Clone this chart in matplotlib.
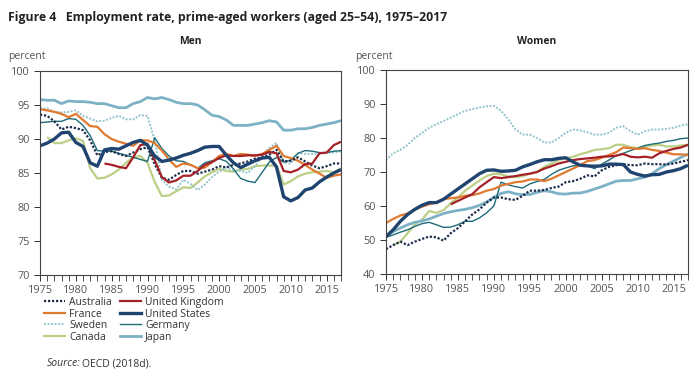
import numpy as np
import matplotlib
matplotlib.use('Agg')
import matplotlib.pyplot as plt
from matplotlib.ticker import MultipleLocator

plt.rcParams['font.family'] = ['Open Sans', 'DejaVu Sans']

# === Data ===
years = list(range(1975, 2018))

men_australia = [93.6, 93.4, 92.6, 91.4, 91.8, 91.6, 91.3, 89.8, 87.6, 88.1, 88.2, 87.8, 87.5, 88.0,
                 88.5, 88.8, 86.3, 84.3, 84.0, 84.7, 85.3, 85.3, 84.9, 85.2, 85.5, 86.0, 85.8, 86.2,
                 86.4, 86.7, 87.1, 87.3, 87.7, 88.4, 86.7, 86.8, 87.3, 86.7, 86.1, 85.7, 86.0, 86.4, 86.4]
men_france = [94.4, 94.2, 94.0, 93.7, 93.2, 93.7, 92.8, 91.9, 91.8, 90.7, 90.0, 89.6, 89.3, 89.0,
              89.8, 89.8, 89.4, 88.3, 87.0, 85.9, 86.4, 86.2, 85.7, 85.8, 86.6, 87.5, 87.8, 87.5,
              87.8, 87.7, 87.5, 87.8, 88.4, 89.0, 87.5, 87.2, 86.8, 86.2, 85.5, 84.9, 84.3, 84.6, 84.8]
men_sweden = [94.5, 94.5, 94.0, 93.9, 94.0, 94.2, 93.4, 93.0, 92.6, 92.7, 93.1, 93.4, 92.9, 92.9,
              93.5, 93.4, 89.8, 84.0, 83.0, 82.6, 84.0, 83.4, 82.5, 83.3, 84.4, 85.2, 85.8, 85.3,
              85.3, 85.0, 86.0, 87.5, 88.7, 89.4, 86.5, 86.4, 87.9, 87.8, 87.8, 87.8, 88.0, 88.0, 88.2]
men_canada = [None, 90.3, 89.4, 89.4, 89.8, 90.1, 89.7, 85.7, 84.2, 84.3, 84.8, 85.5, 86.5, 87.3,
              87.5, 86.5, 83.7, 81.6, 81.7, 82.3, 82.9, 82.8, 83.6, 84.5, 85.1, 85.6, 85.3, 85.2,
              85.5, 85.6, 86.0, 86.1, 86.1, 86.1, 83.3, 83.8, 84.5, 84.9, 85.1, 85.2, 85.3, 85.1, 85.7]
men_uk = [None] * 9 + [86.4, 86.2, 85.9, 85.7, 87.3, 89.1, 89.3, 86.9, 84.4, 83.6, 83.9, 84.6, 84.6,
                       85.3, 86.2, 86.6, 87.2, 87.6, 87.5, 87.5, 87.6, 87.6, 87.7, 88.1, 87.9, 85.3,
                       85.1, 85.5, 86.3, 86.4, 87.9, 88.0, 89.1, 89.6]
men_us = [89.0, 89.4, 90.0, 90.9, 91.0, 89.5, 88.9, 86.5, 86.0, 88.4, 88.6, 88.5, 89.0, 89.5,
          89.8, 89.1, 87.5, 86.7, 86.9, 87.2, 87.6, 87.9, 88.3, 88.8, 88.9, 88.9, 87.6, 86.5,
          85.8, 86.3, 86.8, 87.2, 87.3, 85.9, 81.5, 80.9, 81.4, 82.5, 82.8, 83.7, 84.4, 85.0, 85.5]
men_germany = [92.4, 92.5, 92.6, 92.6, 93.0, 92.9, 92.0, 90.5, 88.3, 88.2, 88.2, 87.9, 87.6, 87.3,
               87.0, 86.7, 90.2, 88.6, 87.5, 86.8, 86.7, 86.2, 85.7, 86.5, 86.8, 87.1, 86.7, 85.6,
               84.2, 83.8, 83.6, 85.1, 86.6, 87.3, 86.6, 86.9, 87.9, 88.3, 88.2, 88.0, 88.0, 88.2, 88.3]
men_japan = [95.8, 95.7, 95.7, 95.2, 95.6, 95.5, 95.5, 95.4, 95.2, 95.2, 94.9, 94.6, 94.6, 95.2,
             95.5, 96.1, 95.9, 96.1, 95.8, 95.4, 95.2, 95.2, 95.0, 94.3, 93.5, 93.3, 92.8, 92.0,
             92.0, 92.0, 92.2, 92.4, 92.7, 92.5, 91.3, 91.3, 91.5, 91.5, 91.7, 92.0, 92.2, 92.4, 92.7]

women_australia = [47.3, 48.5, 49.5, 48.5, 49.5, 50.3, 51.0, 50.8, 49.8, 52.0, 53.5, 55.5, 57.5, 59.0,
                   61.0, 62.5, 62.5, 62.0, 61.8, 63.0, 64.5, 64.5, 64.7, 65.3, 65.7, 67.0, 67.3, 68.0,
                   69.0, 68.7, 70.5, 71.5, 72.0, 72.3, 72.0, 72.0, 72.5, 72.3, 72.3, 72.2, 72.5, 73.0, 73.5]
women_france = [55.0, 56.2, 57.2, 57.8, 59.0, 59.8, 60.5, 61.0, 62.0, 62.3, 62.5, 63.0, 63.2, 63.7,
                64.5, 65.0, 66.0, 66.5, 67.0, 67.2, 67.8, 67.8, 67.3, 68.0, 69.0, 70.0, 71.0, 72.0,
                73.2, 73.5, 74.2, 75.0, 75.8, 77.2, 77.0, 76.8, 77.0, 76.5, 76.2, 75.7, 75.2, 75.2, 75.0]
women_sweden = [73.5, 75.5, 76.5, 78.0, 80.0, 81.5, 83.0, 84.0, 85.0, 86.0, 87.0, 88.0, 88.5, 89.0,
                89.3, 89.5, 88.0, 85.5, 82.5, 81.0, 81.0, 80.0, 78.7, 78.7, 80.0, 81.5, 82.5, 82.2,
                81.7, 81.0, 81.0, 81.5, 83.0, 83.5, 82.0, 81.0, 82.0, 82.5, 82.5, 82.7, 83.0, 83.7, 84.0]
women_canada = [None, 48.5, 49.5, 52.0, 54.5, 56.0, 58.5, 58.0, 58.8, 60.8, 62.5, 64.5, 66.0, 67.5,
                68.8, 69.5, 69.3, 68.7, 68.5, 68.8, 69.5, 70.0, 71.5, 72.5, 73.5, 74.0, 74.5, 75.2,
                75.8, 76.5, 76.7, 77.0, 78.0, 78.0, 77.3, 77.0, 77.5, 77.8, 78.0, 77.5, 77.5, 77.8, 78.0]
women_uk = [None] * 9 + [60.5, 61.5, 62.5, 63.5, 65.5, 67.0, 68.5, 68.2, 68.5, 68.8, 69.2, 69.5, 70.0,
                         71.0, 71.7, 72.5, 73.0, 73.5, 73.8, 74.0, 74.2, 74.5, 74.6, 74.8, 75.3, 74.5,
                         74.3, 74.5, 74.2, 75.5, 76.2, 76.8, 77.2, 78.0]
women_us = [51.0, 53.0, 55.5, 57.5, 59.0, 60.2, 61.0, 61.0, 62.0, 63.5, 65.0, 66.5, 68.0, 69.5,
            70.5, 70.6, 70.2, 70.3, 70.5, 71.5, 72.2, 73.0, 73.6, 73.6, 74.0, 74.2, 73.0, 72.0,
            71.8, 71.7, 71.8, 72.3, 72.3, 72.2, 70.0, 69.3, 68.8, 69.2, 69.3, 70.0, 70.4, 71.0, 72.0]
women_germany = [50.8, 51.5, 52.3, 53.0, 54.0, 54.8, 55.2, 54.5, 53.7, 53.8, 54.5, 55.5, 55.5, 56.5,
                 58.0, 60.0, 67.0, 66.2, 65.7, 65.3, 66.5, 67.2, 67.8, 69.3, 70.5, 71.2, 71.8, 72.0,
                 71.8, 71.0, 72.3, 73.5, 74.8, 75.5, 76.3, 77.0, 77.8, 78.2, 78.5, 79.0, 79.3, 79.8, 80.0]
women_japan = [51.0, 52.5, 53.5, 54.5, 55.2, 55.6, 56.2, 57.0, 57.8, 58.3, 58.7, 59.0, 59.5, 60.2,
               61.2, 62.5, 63.7, 64.2, 63.6, 63.3, 63.4, 64.0, 64.5, 64.2, 63.6, 63.5, 63.8, 63.8,
               64.3, 65.0, 65.7, 66.5, 67.3, 67.5, 67.5, 68.0, 68.5, 69.5, 71.0, 72.2, 73.2, 74.3, 75.3]

# === Styles ===
styles = {
    'Australia':      dict(color='#1c2c4a', lw=1.6, ls=(0, (1, 0.8))),
    'France':         dict(color='#e07a30', lw=1.6, ls='-'),
    'Sweden':         dict(color='#93c3cc', lw=1.4, ls=(0, (1, 0.8))),
    'Canada':         dict(color='#bccf86', lw=1.6, ls='-'),
    'United Kingdom': dict(color='#a52128', lw=1.6, ls='-'),
    'United States':  dict(color='#1f4470', lw=2.4, ls='-'),
    'Germany':        dict(color='#1d6b78', lw=1.0, ls='-'),
    'Japan':          dict(color='#7db1c5', lw=2.0, ls='-'),
}
draw_order = ['Canada', 'Sweden', 'Japan', 'Germany', 'France', 'Australia', 'United Kingdom', 'United States']

men = {'Australia': men_australia, 'France': men_france, 'Sweden': men_sweden, 'Canada': men_canada,
       'United Kingdom': men_uk, 'United States': men_us, 'Germany': men_germany, 'Japan': men_japan}
women = {'Australia': women_australia, 'France': women_france, 'Sweden': women_sweden,
         'Canada': women_canada, 'United Kingdom': women_uk, 'United States': women_us,
         'Germany': women_germany, 'Japan': women_japan}

fig = plt.figure(figsize=(7.0, 3.77), dpi=100)
ax_m = fig.add_axes([40 / 700, 1 - 275 / 377, 301 / 700, 204 / 377])
ax_w = fig.add_axes([386 / 700, 1 - 274 / 377, 302 / 700, 204 / 377])

tick_col = '#555555'
for ax, data, ylim, ystep in [(ax_m, men, (70, 100), 5), (ax_w, women, (40, 100), 10)]:
    for name in draw_order:
        vals = np.array([np.nan if v is None else v for v in data[name]], dtype=float)
        st = styles[name]
        ax.plot(years, vals, color=st['color'], lw=st['lw'], ls=st['ls'],
                solid_capstyle='butt', solid_joinstyle='round')
    ax.set_xlim(1975, 2017)
    ax.set_ylim(*ylim)
    ax.xaxis.set_major_locator(MultipleLocator(5))
    ax.xaxis.set_minor_locator(MultipleLocator(1))
    ax.yaxis.set_major_locator(MultipleLocator(ystep))
    ax.tick_params(axis='both', which='major', labelsize=7.8, colors='#333333',
                   labelcolor=tick_col, length=4, width=0.7, direction='out')
    ax.tick_params(axis='x', which='minor', length=4, width=0.6, color='#333333', direction='out')
    for sp in ax.spines.values():
        sp.set_color('#444444')
        sp.set_linewidth(0.8)

fig.text(8 / 700, 1 - 17 / 377, 'Figure 4   Employment rate, prime-aged workers (aged 25\u201354), 1975\u20132017',
         fontsize=8.8, fontweight='bold', va='center', ha='left', color='#222222')
fig.text(190 / 700, 1 - 42 / 377, 'Men', fontsize=7.5, fontweight='bold', ha='center', va='center',
         color='#222222')
fig.text(537 / 700, 1 - 42 / 377, 'Women', fontsize=7.5, fontweight='bold', ha='center', va='center',
         color='#222222')
fig.text(8 / 700, 1 - 57 / 377, 'percent', fontsize=7.5, ha='left', va='center', color=tick_col)
fig.text(355 / 700, 1 - 57 / 377, 'percent', fontsize=7.5, ha='left', va='center', color=tick_col)

# === Legend ===
legend_order = ['Australia', 'France', 'Sweden', 'Canada',
                'United Kingdom', 'United States', 'Germany', 'Japan']
handles = []
for name in legend_order:
    st = styles[name]
    h, = ax_m.plot([], [], color=st['color'], lw=st['lw'], ls=st['ls'])
    handles.append(h)
leg = fig.legend(handles, legend_order, ncol=2, loc='upper left',
                 bbox_to_anchor=(44 / 700, 1 - 297 / 377), frameon=False, fontsize=7.5,
                 handlelength=2.0, handletextpad=0.4, columnspacing=0.8, labelspacing=0.05,
                 borderaxespad=0, borderpad=0)
for t in leg.get_texts():
    t.set_color('#333333')

fig.text(47 / 700, 1 - 364 / 377, 'Source:', fontsize=7.5, style='italic', ha='left', va='center',
         color='#333333')
fig.text(82 / 700, 1 - 364 / 377, 'OECD (2018d).', fontsize=7.5, ha='left', va='center',
         color='#333333')

fig.savefig('out.png', dpi=100)
